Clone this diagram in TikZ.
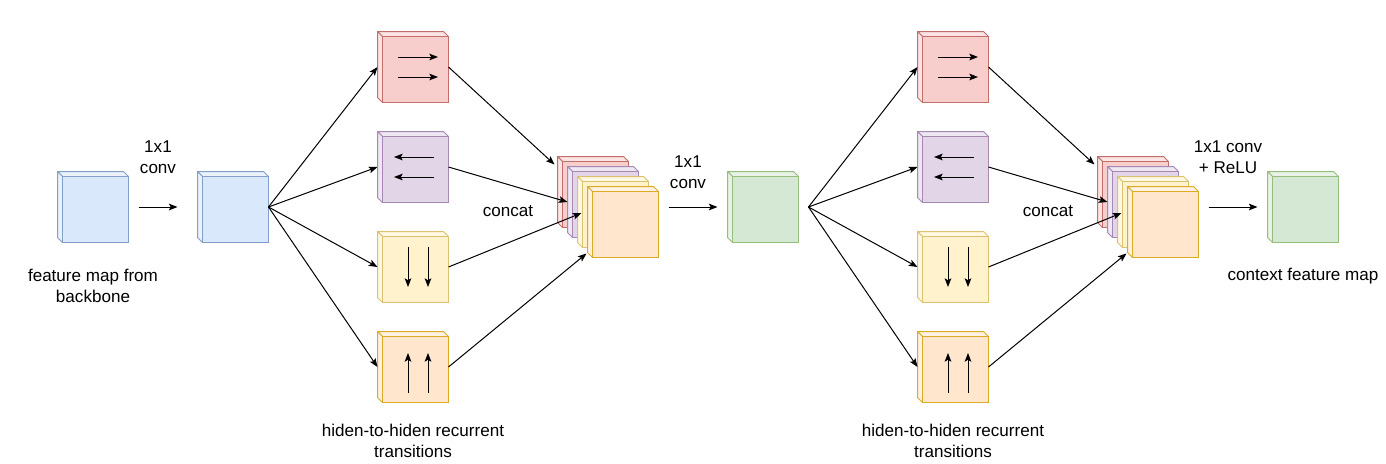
\documentclass[tikz,border=0pt]{standalone}
\usepackage{fontspec}
\setmainfont{Liberation Sans}
\usetikzlibrary{arrows.meta,positioning,calc}
\definecolor{blfill}{HTML}{DAE8FC}
\definecolor{blline}{HTML}{6C8EBF}
\definecolor{rdfill}{HTML}{F8CECC}
\definecolor{rdline}{HTML}{B85450}
\definecolor{ppfill}{HTML}{E1D5E7}
\definecolor{ppline}{HTML}{9673A6}
\definecolor{ylfill}{HTML}{FFF2CC}
\definecolor{ylline}{HTML}{D6B656}
\definecolor{orfill}{HTML}{FFE6CC}
\definecolor{orline}{HTML}{D79B00}
\definecolor{gnfill}{HTML}{D5E8D4}
\definecolor{gnline}{HTML}{82B366}

% cube: name, position, fill, line
\newcommand{\drawcube}[4]{%
  \node[cube] (#1) at (#2) {};
  \filldraw[fill=#3!55!white, draw=#4!85!white, line join=round]
    (#1.north west) -- ($(#1.north east)+(-5,0)$) -- ($(#1.north east)+(0,5)$)
    -- ($(#1.north west)+(5,5)$) -- cycle;
  \filldraw[fill=#3!55!white, draw=#4!85!white, line join=round]
    (#1.north west) -- ($(#1.north west)+(5,5)$) -- ($(#1.south west)+(5,0)$)
    -- ($(#1.south west)+(0,-5)$) -- cycle;
  \filldraw[fill=#3, draw=#4!85!white] ($(#1.north west)+(5,5)$) rectangle (#1.south east);
}

\begin{document}
\begin{tikzpicture}[
  x=0.75pt, y=-0.75pt,
  line width=0.75pt,
  >={Stealth[length=6.5pt,width=5pt,inset=1.4pt]},
  cube/.style={minimum width=52.5pt, minimum height=52.5pt, inner sep=0pt},
  flow/.style={->, black},
  inarrow/.style={->, black},
  lbl/.style={align=center, inner sep=0pt, font=\fontsize{12.8}{15.4}\selectfont}
]
\useasboundingbox (0,0) rectangle (1386,464);

% ---- Backbone + 1x1 conv ----
\drawcube{b1}{93,207}{blfill}{blline}
\drawcube{b2}{233,207}{blfill}{blline}
\draw[flow, shorten <=7.5pt, shorten >=15pt] (b1.east) -- (b2.west);
\node[lbl] (lfeat) at (93,286) {feature map from\\backbone};
\node[lbl] (lconv1) at (158,157) {1x1\\conv};

% ---- middle conv ----
\drawcube{g1}{763,207}{gnfill}{gnline}
\coordinate (fan2) at ($(g1.east)+(10,0)$);
\node[lbl] (lconv2) at (688,172) {1x1\\conv};

% ---- output ----
\drawcube{g2}{1303,207}{gnfill}{gnline}
\node[lbl] (lconv3) at (1228,157) {1x1 conv\\+ ReLU};
\node[lbl] (lctx) at (1303,276) {context feature map};

% ---- two recurrent blocks ----
\foreach \s/\sx/\fan in {1/0/b2.east, 2/540/fan2} {
  % direction cubes
  \drawcube{r\s}{413+\sx,67}{rdfill}{rdline}
  \drawcube{p\s}{413+\sx,167}{ppfill}{ppline}
  \drawcube{y\s}{413+\sx,267}{ylfill}{ylline}
  \drawcube{o\s}{413+\sx,367}{orfill}{orline}
  \foreach \dy in {-10,10} {
    \draw[inarrow] ($(r\s)+(-15,\dy)$) -- ++(40,0);
    \draw[inarrow] ($(p\s)+(21,\dy)$) -- ++(-40,0);
  }
  \foreach \dx in {-5,15} {
    \draw[inarrow] ($(y\s)+(\dx,-20)$) -- ++(0,40);
    \draw[inarrow] ($(o\s)+(\dx,26)$) -- ++(0,-40);
  }
  % concat stack
  \drawcube{cr\s}{593+\sx,192}{rdfill}{rdline}
  \drawcube{cp\s}{603+\sx,202}{ppfill}{ppline}
  \drawcube{cy\s}{613+\sx,212}{ylfill}{ylline}
  \drawcube{co\s}{623+\sx,222}{orfill}{orline}
  % fan out
  \foreach \c in {r,p,y,o}
    \draw[flow] (\fan) -- (\c\s.west);
  % into concat
  \draw[flow] (r\s.east) -- ($(cr\s.north west)+(-3,8)$);
  \draw[flow] (p\s.east) -- (cp\s.west);
  \draw[flow] (y\s.east) -- ($(cy\s.west)+(4,1)$);
  \draw[flow] (o\s.east) -- ($(co\s.south west)+(-1,-4)$);
  \node[lbl] (lcat\s) at (508+\sx,211) {concat};
  \node[lbl] (lhid\s) at (413+\sx,441) {hiden-to-hiden recurrent\\transitions};
}

% ---- conv arrows after concat ----
\draw[flow, shorten <=7.5pt, shorten >=7.5pt] (co1.east |- g1.west) -- (g1.west);
\draw[flow, shorten <=7.5pt, shorten >=7.5pt] (co2.east |- g2.west) -- (g2.west);

\end{tikzpicture}
\end{document}
